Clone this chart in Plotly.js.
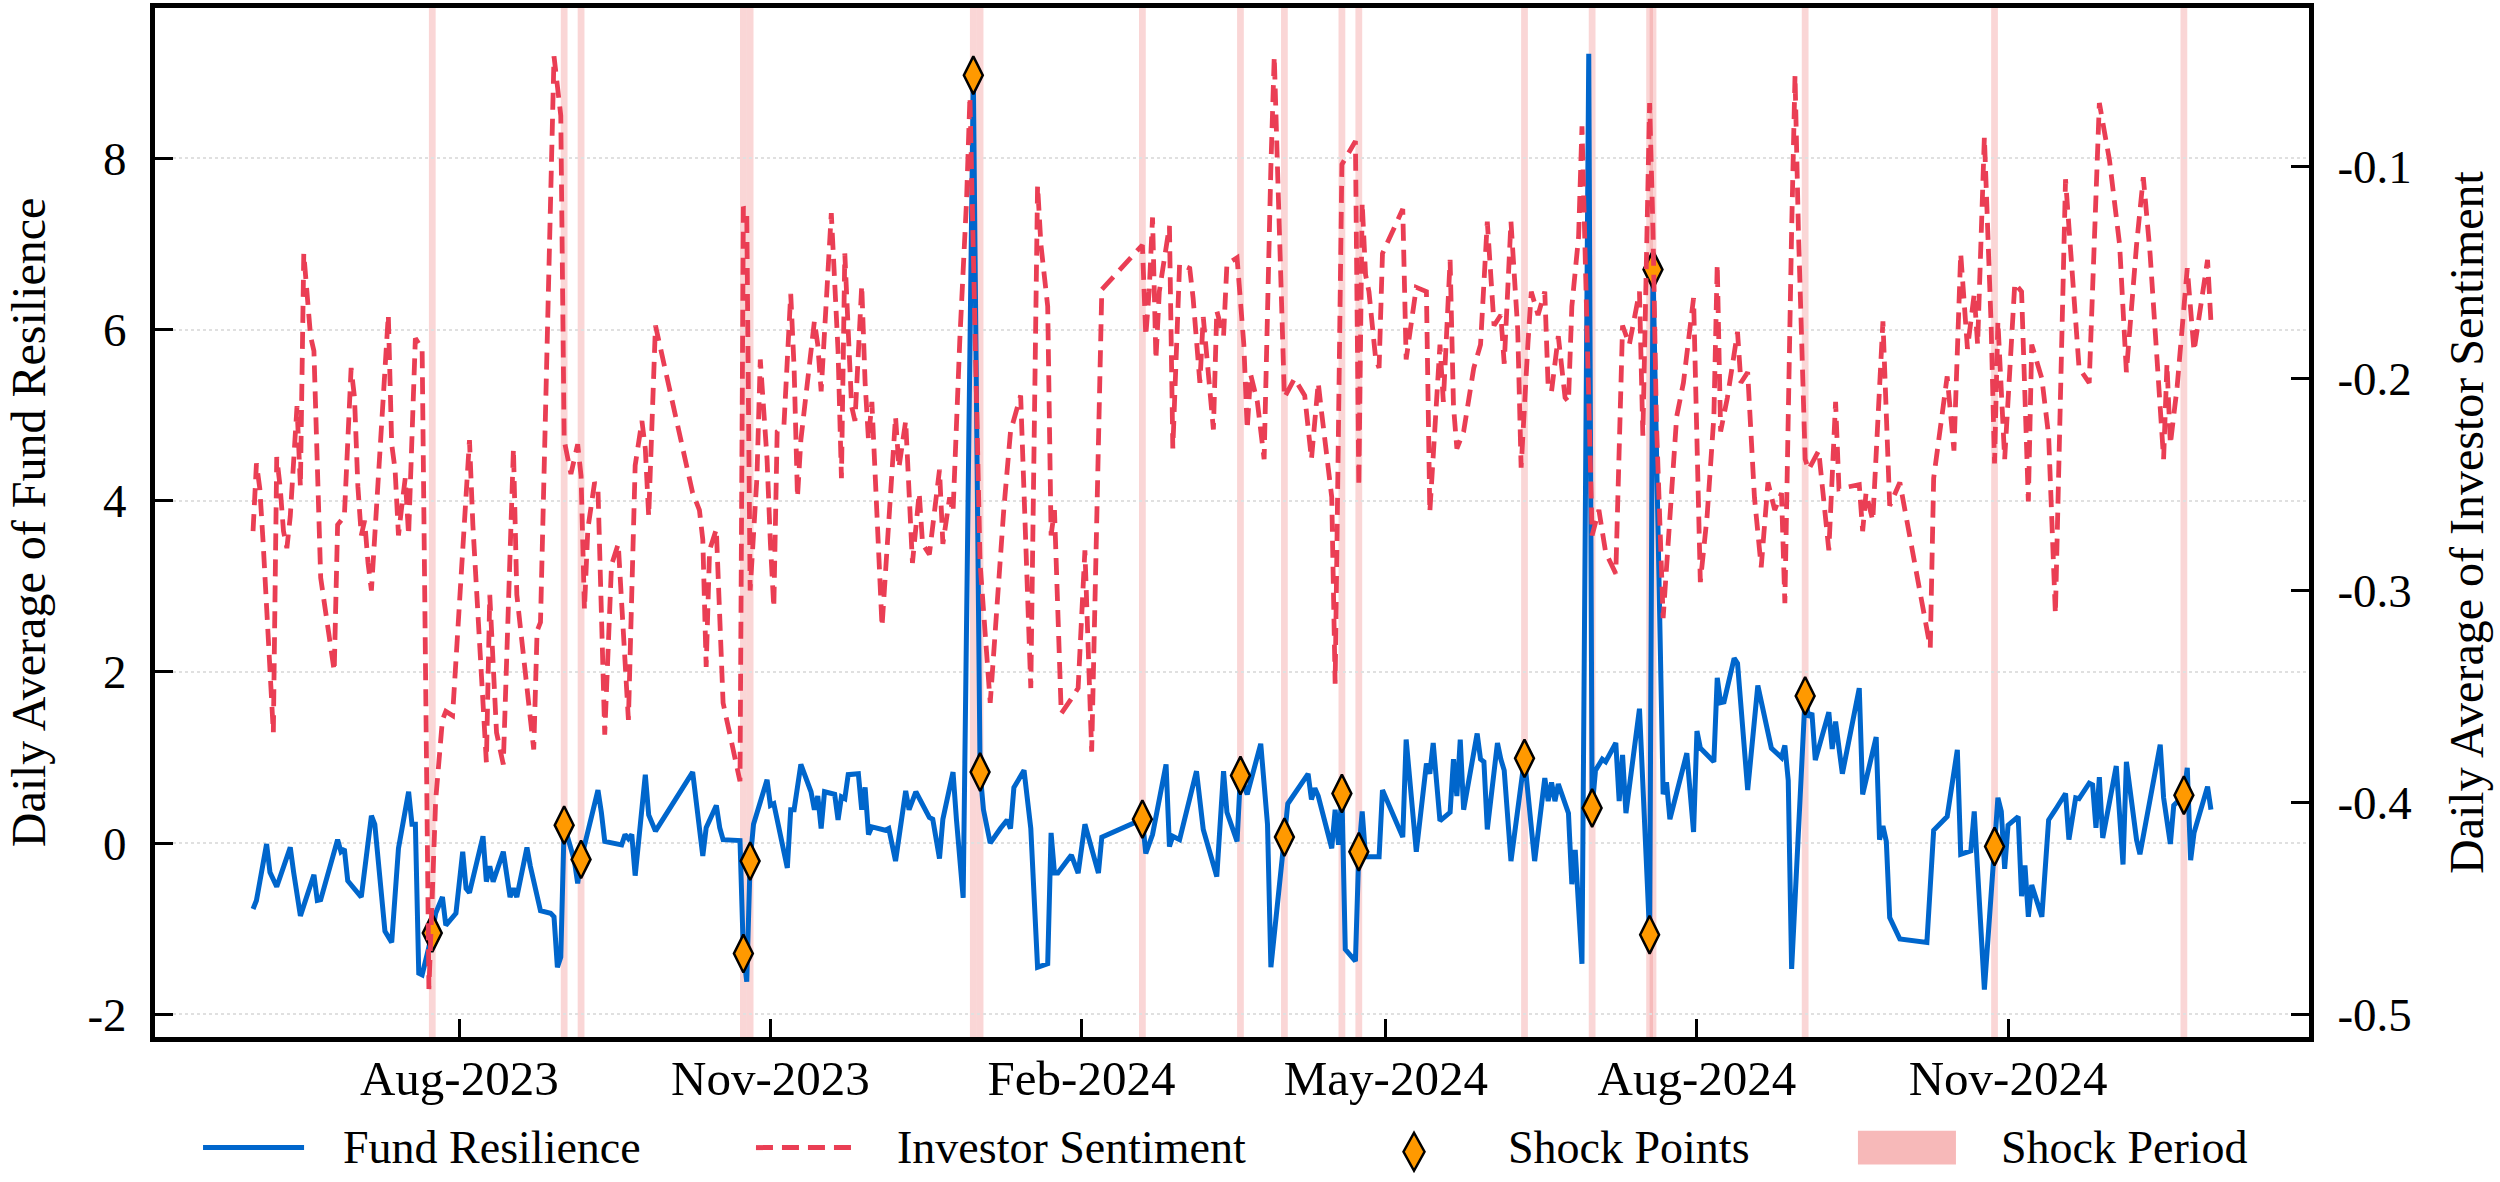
<!DOCTYPE html>
<html>
<head>
<meta charset="utf-8">
<script src="https://cdn.plot.ly/plotly-3.0.1.min.js"></script>
<style>
html,body{margin:0;padding:0;background:#ffffff;}
#chart{width:2500px;height:1182px;}
</style>
</head>
<body>
<div id="chart"></div>
<script>
// ---------------- Fund Resilience (left axis) ----------------
const fundDates = [
'2023-06-01','2023-06-02','2023-06-05','2023-06-06','2023-06-08','2023-06-12','2023-06-13','2023-06-15','2023-06-19','2023-06-20','2023-06-21','2023-06-26','2023-06-27','2023-06-28','2023-06-29',
'2023-07-03','2023-07-06','2023-07-07','2023-07-10','2023-07-12','2023-07-14','2023-07-17','2023-07-18','2023-07-19','2023-07-20','2023-07-21','2023-07-24','2023-07-25','2023-07-27','2023-07-28','2023-07-31',
'2023-08-02','2023-08-03','2023-08-04','2023-08-08','2023-08-09','2023-08-10','2023-08-11','2023-08-14','2023-08-16','2023-08-17','2023-08-18','2023-08-21','2023-08-22','2023-08-25','2023-08-28','2023-08-29','2023-08-30','2023-08-31',
'2023-09-01','2023-09-04','2023-09-05','2023-09-06','2023-09-08','2023-09-11','2023-09-12','2023-09-13','2023-09-18','2023-09-19','2023-09-20','2023-09-21','2023-09-22','2023-09-25','2023-09-26','2023-09-28',
'2023-10-09','2023-10-12','2023-10-13','2023-10-16','2023-10-17','2023-10-18','2023-10-23','2023-10-24','2023-10-25','2023-10-26','2023-10-27','2023-10-31',
'2023-11-01','2023-11-02','2023-11-06','2023-11-07','2023-11-08','2023-11-10','2023-11-13','2023-11-14','2023-11-15','2023-11-16','2023-11-17','2023-11-20','2023-11-21','2023-11-22','2023-11-23','2023-11-24','2023-11-27','2023-11-28','2023-11-29','2023-11-30',
'2023-12-01','2023-12-04','2023-12-05','2023-12-06','2023-12-08','2023-12-11','2023-12-12','2023-12-14','2023-12-18','2023-12-19','2023-12-21','2023-12-22','2023-12-25','2023-12-26','2023-12-28','2023-12-31',
'2024-01-02','2024-01-03','2024-01-05','2024-01-08','2024-01-10','2024-01-11','2024-01-12','2024-01-15','2024-01-17','2024-01-19','2024-01-22','2024-01-23','2024-01-24','2024-01-25','2024-01-29','2024-01-31',
'2024-02-02','2024-02-06','2024-02-07','2024-02-19','2024-02-20','2024-02-22','2024-02-26','2024-02-27','2024-02-28',
'2024-03-01','2024-03-04','2024-03-06','2024-03-08','2024-03-12','2024-03-14','2024-03-15','2024-03-18','2024-03-19','2024-03-21','2024-03-25','2024-03-27','2024-03-28',
'2024-04-01','2024-04-02','2024-04-08','2024-04-09','2024-04-10','2024-04-11','2024-04-15','2024-04-16','2024-04-17','2024-04-18','2024-04-19','2024-04-22','2024-04-23','2024-04-24','2024-04-25','2024-04-29','2024-04-30',
'2024-05-06','2024-05-07','2024-05-10','2024-05-13','2024-05-14','2024-05-15','2024-05-17','2024-05-20','2024-05-21','2024-05-22','2024-05-23','2024-05-24','2024-05-28','2024-05-29','2024-05-30','2024-05-31',
'2024-06-03','2024-06-04','2024-06-05','2024-06-07','2024-06-11','2024-06-14','2024-06-17','2024-06-18','2024-06-19','2024-06-20','2024-06-21','2024-06-24','2024-06-25','2024-06-26','2024-06-28','2024-06-30',
'2024-07-01','2024-07-02','2024-07-04','2024-07-05','2024-07-08','2024-07-09','2024-07-10','2024-07-11','2024-07-15','2024-07-18','2024-07-19','2024-07-22','2024-07-23','2024-07-24','2024-07-29','2024-07-31',
'2024-08-01','2024-08-02','2024-08-06','2024-08-07','2024-08-08','2024-08-09','2024-08-12','2024-08-13','2024-08-16','2024-08-19','2024-08-21','2024-08-22','2024-08-23','2024-08-26','2024-08-27','2024-08-28','2024-08-29',
'2024-09-02','2024-09-03','2024-09-04','2024-09-05','2024-09-09','2024-09-10','2024-09-11','2024-09-13','2024-09-18','2024-09-19','2024-09-23','2024-09-24','2024-09-25','2024-09-26','2024-09-27','2024-09-30',
'2024-10-08','2024-10-10','2024-10-14','2024-10-17','2024-10-18','2024-10-21','2024-10-22','2024-10-25','2024-10-28','2024-10-29','2024-10-30','2024-10-31',
'2024-11-01','2024-11-04','2024-11-05','2024-11-06','2024-11-07','2024-11-08','2024-11-11','2024-11-12','2024-11-13','2024-11-15','2024-11-18','2024-11-19','2024-11-21','2024-11-22','2024-11-25','2024-11-26','2024-11-27','2024-11-28','2024-11-29',
'2024-12-03','2024-12-05','2024-12-06','2024-12-09','2024-12-10','2024-12-11','2024-12-16','2024-12-17','2024-12-19','2024-12-20','2024-12-23','2024-12-24','2024-12-25','2024-12-26','2024-12-30','2024-12-31'
];
const fundValues = [
-0.77,-0.67,-0.01,-0.34,-0.51,-0.05,-0.34,-0.85,-0.37,-0.67,-0.66,0.04,-0.10,-0.07,-0.44,
-0.63,0.32,0.22,-1.03,-1.16,-0.06,0.60,0.22,0.22,-1.52,-1.54,-1.05,-0.82,-0.63,-0.96,-0.82,
-0.10,-0.53,-0.58,0.08,-0.45,-0.27,-0.45,-0.10,-0.63,-0.53,-0.63,-0.05,-0.27,-0.79,-0.82,-0.86,-1.45,-1.33,
0.21,-0.20,-0.47,-0.19,0.13,0.62,0.36,0.02,-0.02,0.10,0.05,0.10,-0.38,0.80,0.33,0.14,
0.83,-0.15,0.18,0.44,0.18,0.04,0.03,-1.29,-1.62,-0.21,0.22,0.74,
0.44,0.46,-0.29,0.39,0.39,0.92,0.60,0.39,0.55,0.17,0.60,0.57,0.27,0.54,0.52,0.80,0.81,0.39,0.65,0.10,
0.19,0.16,0.15,0.17,-0.21,0.61,0.39,0.60,0.30,0.28,-0.18,0.28,0.83,0.28,-0.64,8.97,
0.83,0.39,0.00,0.17,0.27,0.17,0.65,0.85,0.17,-1.45,-1.41,0.12,-0.35,-0.35,-0.14,-0.35,
0.22,-0.35,0.07,0.28,-0.12,0.10,0.92,-0.04,0.08,
0.04,0.49,0.84,0.16,-0.39,0.84,0.36,0.02,0.79,0.57,1.16,0.22,-1.45,
0.07,0.46,0.81,0.51,0.64,0.55,-0.06,0.39,-0.02,0.58,-1.24,-1.38,-0.10,0.37,-0.16,-0.16,0.62,
0.07,1.21,-0.10,0.93,0.81,1.17,0.26,0.36,0.98,0.55,1.21,0.39,1.28,0.98,0.95,0.16,
1.17,0.98,0.85,-0.21,0.99,-0.21,0.76,0.49,0.71,0.49,0.69,0.35,-0.48,-0.08,-1.41,9.22,
0.41,0.85,0.98,0.95,1.17,0.49,1.03,0.35,1.57,-1.07,6.70,0.57,0.71,0.28,1.05,0.13,
1.31,1.11,0.95,1.93,1.64,1.65,2.16,2.10,0.62,1.84,1.45,1.28,1.11,1.00,1.14,0.73,-1.47,
1.72,1.47,1.52,0.97,1.53,1.10,1.42,0.81,1.81,0.57,1.24,0.04,0.20,0.02,-0.87,-1.12,
-1.16,0.15,0.31,1.09,-0.13,-0.09,0.37,-1.71,-0.04,0.53,0.37,-0.30,
0.21,0.31,-0.62,-0.26,-0.86,-0.49,-0.86,-0.28,0.27,0.39,0.58,0.04,0.53,0.52,0.70,0.68,0.18,0.77,0.06,
0.90,-0.25,0.95,0.04,-0.13,0.08,1.15,0.53,-0.01,0.44,0.56,0.88,-0.20,0.12,0.66,0.39
];

// ---------------- Investor Sentiment (right axis) ----------------
const sentDates = [
'2023-06-01','2023-06-02','2023-06-03','2023-06-04','2023-06-07','2023-06-08','2023-06-09','2023-06-10','2023-06-11','2023-06-12','2023-06-14','2023-06-15','2023-06-16','2023-06-17','2023-06-18','2023-06-19','2023-06-21','2023-06-25','2023-06-26','2023-06-28','2023-06-30',
'2023-07-01','2023-07-02','2023-07-03','2023-07-04','2023-07-05','2023-07-06','2023-07-11','2023-07-12','2023-07-13','2023-07-14','2023-07-15','2023-07-16','2023-07-17','2023-07-19','2023-07-21','2023-07-23','2023-07-25','2023-07-27','2023-07-28','2023-07-30',
'2023-08-04','2023-08-05','2023-08-09','2023-08-10','2023-08-12','2023-08-14','2023-08-17','2023-08-18','2023-08-23','2023-08-24','2023-08-25','2023-08-26','2023-08-28','2023-08-29','2023-08-31',
'2023-09-01','2023-09-03','2023-09-05','2023-09-06','2023-09-07','2023-09-08','2023-09-10','2023-09-11','2023-09-13','2023-09-15','2023-09-17','2023-09-20','2023-09-22','2023-09-24','2023-09-25','2023-09-26','2023-09-28',
'2023-10-09','2023-10-11','2023-10-12','2023-10-13','2023-10-14','2023-10-16','2023-10-18','2023-10-20','2023-10-22','2023-10-23','2023-10-24','2023-10-25','2023-10-26','2023-10-28','2023-10-29','2023-10-30','2023-10-31',
'2023-11-01','2023-11-02','2023-11-03','2023-11-05','2023-11-07','2023-11-08','2023-11-09','2023-11-10','2023-11-14','2023-11-15','2023-11-16','2023-11-17','2023-11-18','2023-11-19','2023-11-21','2023-11-22','2023-11-23','2023-11-24','2023-11-25','2023-11-26','2023-11-28','2023-11-29','2023-11-30',
'2023-12-01','2023-12-04','2023-12-08','2023-12-09','2023-12-11','2023-12-13','2023-12-15','2023-12-16','2023-12-18','2023-12-21','2023-12-22','2023-12-24','2023-12-25','2023-12-27','2023-12-29','2023-12-30',
'2024-01-02','2024-01-05','2024-01-09','2024-01-11','2024-01-14','2024-01-17','2024-01-19','2024-01-20','2024-01-22','2024-01-23','2024-01-24','2024-01-26','2024-01-29','2024-01-31',
'2024-02-02','2024-02-04','2024-02-07','2024-02-19','2024-02-20','2024-02-21','2024-02-22','2024-02-23','2024-02-24','2024-02-27','2024-02-28',
'2024-03-01','2024-03-04','2024-03-05','2024-03-07','2024-03-08','2024-03-11','2024-03-12','2024-03-14','2024-03-15','2024-03-18','2024-03-20','2024-03-21','2024-03-22','2024-03-24','2024-03-26','2024-03-28','2024-03-29','2024-03-30',
'2024-04-01','2024-04-04','2024-04-07','2024-04-09','2024-04-11','2024-04-12','2024-04-15','2024-04-16','2024-04-18','2024-04-22','2024-04-23','2024-04-24','2024-04-25','2024-04-26','2024-04-28','2024-04-29','2024-04-30',
'2024-05-06','2024-05-07','2024-05-10','2024-05-13','2024-05-14','2024-05-17','2024-05-18','2024-05-20','2024-05-21','2024-05-22','2024-05-24','2024-05-27','2024-05-29','2024-05-31',
'2024-06-02','2024-06-04','2024-06-05','2024-06-07','2024-06-09','2024-06-10','2024-06-12','2024-06-13','2024-06-15','2024-06-17','2024-06-18','2024-06-19','2024-06-21','2024-06-23','2024-06-24','2024-06-25','2024-06-27','2024-06-28',
'2024-07-01','2024-07-03','2024-07-05','2024-07-08','2024-07-10','2024-07-12','2024-07-15','2024-07-16','2024-07-18','2024-07-19','2024-07-20','2024-07-22','2024-07-26','2024-07-28','2024-07-31',
'2024-08-02','2024-08-04','2024-08-06','2024-08-07','2024-08-08','2024-08-10','2024-08-13','2024-08-14','2024-08-16','2024-08-18','2024-08-20','2024-08-22','2024-08-24','2024-08-26','2024-08-27','2024-08-29','2024-08-30','2024-08-31',
'2024-09-02','2024-09-03','2024-09-06','2024-09-09','2024-09-11','2024-09-12','2024-09-15','2024-09-18','2024-09-19','2024-09-20','2024-09-22','2024-09-25','2024-09-26','2024-09-27','2024-09-30',
'2024-10-09','2024-10-10','2024-10-14','2024-10-16','2024-10-18','2024-10-20','2024-10-22','2024-10-23','2024-10-25','2024-10-27','2024-10-28','2024-10-29','2024-10-31',
'2024-11-03','2024-11-05','2024-11-07','2024-11-08','2024-11-11','2024-11-13','2024-11-15','2024-11-18','2024-11-22','2024-11-25','2024-11-28',
'2024-12-01','2024-12-04','2024-12-06','2024-12-09','2024-12-11','2024-12-13','2024-12-17','2024-12-18','2024-12-19','2024-12-21','2024-12-24','2024-12-26','2024-12-30','2024-12-31'
];
const sentValues = [
-0.272,-0.240,-0.252,-0.278,-0.367,-0.237,-0.251,-0.272,-0.280,-0.265,-0.213,-0.251,-0.141,-0.159,-0.180,-0.187,-0.294,-0.338,-0.269,-0.265,-0.195,
-0.209,-0.251,-0.274,-0.267,-0.287,-0.300,-0.170,-0.231,-0.243,-0.274,-0.260,-0.247,-0.274,-0.181,-0.186,-0.488,-0.399,-0.361,-0.357,-0.359,
-0.229,-0.269,-0.381,-0.302,-0.367,-0.382,-0.233,-0.302,-0.375,-0.319,-0.315,-0.245,-0.099,-0.048,-0.076,
-0.229,-0.245,-0.231,-0.246,-0.309,-0.271,-0.249,-0.252,-0.368,-0.288,-0.278,-0.361,-0.241,-0.220,-0.233,-0.265,-0.175,
-0.254,-0.262,-0.276,-0.336,-0.281,-0.271,-0.353,-0.368,-0.384,-0.390,-0.119,-0.122,-0.300,-0.247,-0.191,-0.211,-0.238,
-0.278,-0.308,-0.225,-0.222,-0.160,-0.195,-0.256,-0.229,-0.173,-0.184,-0.206,-0.175,-0.151,-0.122,-0.187,-0.247,-0.141,-0.177,-0.213,-0.220,-0.156,-0.202,-0.229,
-0.211,-0.317,-0.218,-0.242,-0.220,-0.287,-0.254,-0.278,-0.283,-0.243,-0.278,-0.256,-0.263,-0.182,-0.116,-0.067,
-0.287,-0.353,-0.262,-0.225,-0.208,-0.346,-0.109,-0.137,-0.166,-0.274,-0.262,-0.358,-0.351,-0.346,
-0.281,-0.376,-0.158,-0.137,-0.180,-0.159,-0.124,-0.191,-0.159,-0.128,-0.233,
-0.146,-0.148,-0.162,-0.202,-0.171,-0.224,-0.168,-0.180,-0.146,-0.143,-0.184,-0.224,-0.198,-0.211,-0.238,-0.100,-0.048,-0.103,
-0.209,-0.200,-0.208,-0.238,-0.202,-0.216,-0.256,-0.344,-0.099,-0.088,-0.251,-0.117,-0.151,-0.159,-0.191,-0.195,-0.141,
-0.120,-0.191,-0.157,-0.159,-0.263,-0.184,-0.211,-0.144,-0.213,-0.233,-0.225,-0.195,-0.184,-0.126,
-0.175,-0.170,-0.193,-0.126,-0.177,-0.242,-0.184,-0.159,-0.170,-0.159,-0.204,-0.206,-0.180,-0.209,-0.211,-0.166,-0.133,-0.081,
-0.274,-0.262,-0.282,-0.292,-0.175,-0.184,-0.159,-0.227,-0.070,-0.130,-0.220,-0.313,-0.218,-0.202,-0.162,
-0.296,-0.265,-0.218,-0.146,-0.225,-0.209,-0.178,-0.202,-0.197,-0.256,-0.289,-0.249,-0.262,-0.254,-0.306,-0.130,-0.057,-0.130,
-0.238,-0.243,-0.234,-0.281,-0.211,-0.252,-0.251,-0.250,-0.272,-0.254,-0.267,-0.173,-0.217,-0.260,-0.249,
-0.327,-0.247,-0.199,-0.234,-0.141,-0.186,-0.160,-0.184,-0.086,-0.175,-0.240,-0.173,-0.238,
-0.155,-0.159,-0.258,-0.184,-0.200,-0.227,-0.311,-0.106,-0.195,-0.202,-0.070,
-0.097,-0.137,-0.197,-0.137,-0.105,-0.141,-0.238,-0.193,-0.231,-0.204,-0.148,-0.187,-0.144,-0.173
];

// ---------------- Shock points ----------------
const shockDates = ['2023-07-24','2023-09-01','2023-09-06','2023-10-24','2023-10-26','2023-12-31','2024-01-02','2024-02-19','2024-03-19','2024-04-01','2024-04-18','2024-04-23','2024-06-11','2024-07-01','2024-07-18','2024-07-19','2024-09-02','2024-10-28','2024-12-23'];
const shockValues = [-1.05,0.21,-0.19,-1.29,-0.21,8.97,0.83,0.28,0.79,0.07,0.58,-0.10,0.99,0.41,-1.07,6.70,1.72,-0.04,0.56];

// ---------------- Ticks and labels ----------------
const xTickVals = ['2023-08-01','2023-11-01','2024-02-01','2024-05-01','2024-08-01','2024-11-01'];
const xTickText = ['Aug-2023','Nov-2023','Feb-2024','May-2024','Aug-2024','Nov-2024'];
const yTickVals = [-2,0,2,4,6,8];
const yTickText = ['-2','0','2','4','6','8'];
const y2TickVals = [-0.5,-0.4,-0.3,-0.2,-0.1];
const y2TickText = ['-0.5','-0.4','-0.3','-0.2','-0.1'];
const legendLabels = ['Fund Resilience','Investor Sentiment','Shock Points','Shock Period'];

// ---------------- Styles ----------------
const FONT = '"Liberation Serif", "Times New Roman", Times, serif';
const BLUE = '#0066CC';
const RED = 'rgb(234,62,84)';
const ORANGE = '#FF9900';
const BAND = 'rgba(240,128,128,0.32)';

function shiftDay(s, n) {
  const d = new Date(s + 'T00:00:00Z');
  d.setUTCDate(d.getUTCDate() + n);
  return d.toISOString().slice(0, 10);
}

const bandShapes = shockDates.map(d => ({
  type: 'rect', xref: 'x', yref: 'paper',
  x0: shiftDay(d, -1), x1: shiftDay(d, 1), y0: 0, y1: 1,
  fillcolor: BAND, line: {width: 0}, layer: 'below'
}));

// manual legend (paper coordinates below the plot)
const LY = -0.1075;
const legendShapes = [
  {type: 'line', xref: 'paper', yref: 'paper', x0: 0.0223, x1: 0.0692, y0: LY, y1: LY, line: {color: BLUE, width: 5}},
  {type: 'line', xref: 'paper', yref: 'paper', x0: 0.2790, x1: 0.3245, y0: LY, y1: LY, line: {color: RED, width: 5, dash: '17px,9px'}},
  {type: 'path', xref: 'paper', yref: 'paper', xsizemode: 'pixel', ysizemode: 'pixel', xanchor: 0.5845, yanchor: LY - 0.004,
   path: 'M0,19 L10.5,0 L0,-19 L-10.5,0 Z', fillcolor: ORANGE, line: {color: 'black', width: 2.5}},
  {type: 'rect', xref: 'paper', yref: 'paper', x0: 0.7906, x1: 0.8361, y0: LY - 0.0165, y1: LY + 0.0165,
   fillcolor: 'rgba(240,128,128,0.55)', line: {width: 0}}
];
const legendX = [0.0864, 0.3435, 0.6272, 0.8561];
const legendAnn = legendLabels.map((t, i) => ({
  text: t, xref: 'paper', yref: 'paper', x: legendX[i], y: LY,
  xanchor: 'left', yanchor: 'middle', showarrow: false,
  font: {family: FONT, size: 46, color: 'black'}
}));

const traces = [
  {x: fundDates, y: fundValues, type: 'scatter', mode: 'lines', name: 'Fund Resilience',
   line: {color: BLUE, width: 5}, yaxis: 'y', hoverinfo: 'skip'},
  {x: shockDates, y: shockValues, type: 'scatter', mode: 'markers', name: 'Shock Points',
   marker: {symbol: 'diamond-tall', size: 27, color: ORANGE, line: {color: 'black', width: 2.5}},
   yaxis: 'y', hoverinfo: 'skip'},
  {x: sentDates, y: sentValues, type: 'scatter', mode: 'lines', name: 'Investor Sentiment',
   line: {color: RED, width: 4.8, dash: '17px,9px'}, yaxis: 'y2', hoverinfo: 'skip'}
];

const axisCommon = {
  ticks: 'inside', ticklen: 18, tickwidth: 3, tickcolor: 'black',
  showline: true, linewidth: 5, linecolor: 'black', zeroline: false
};

const layout = {
  width: 2500, height: 1182,
  margin: {l: 155, r: 191, t: 8, b: 145, pad: 0},
  paper_bgcolor: '#ffffff', plot_bgcolor: '#ffffff',
  showlegend: false,
  font: {family: FONT, size: 46, color: 'black'},
  xaxis: Object.assign({}, axisCommon, {
    type: 'date', range: ['2023-05-03', '2025-01-29'],
    tickvals: xTickVals, ticktext: xTickText, mirror: true, showgrid: false,
    tickfont: {family: FONT, size: 49, color: 'black'}, ticklabelstandoff: -6
  }),
  yaxis: Object.assign({}, axisCommon, {
    range: [-2.265, 9.756], tickvals: yTickVals, ticktext: yTickText,
    showgrid: true, gridcolor: '#e0e0e0', gridwidth: 2, griddash: 'dot',
    tickfont: {family: FONT, size: 47, color: 'black'}, ticklabelstandoff: 14,
    title: {text: 'Daily Average of Fund Resilience', font: {family: FONT, size: 48, color: 'black'}, standoff: 28}
  }),
  yaxis2: Object.assign({}, axisCommon, {
    overlaying: 'y', side: 'right', range: [-0.5106, -0.0252],
    tickvals: y2TickVals, ticktext: y2TickText, showgrid: false,
    tickfont: {family: FONT, size: 47, color: 'black'}, ticklabelstandoff: 14,
    title: {text: 'Daily Average of Investor Sentiment', font: {family: FONT, size: 48, color: 'black'}, standoff: 40}
  }),
  shapes: bandShapes.concat(legendShapes),
  annotations: legendAnn
};

Plotly.newPlot('chart', traces, layout, {staticPlot: true, displayModeBar: false});
</script>
</body>
</html>
